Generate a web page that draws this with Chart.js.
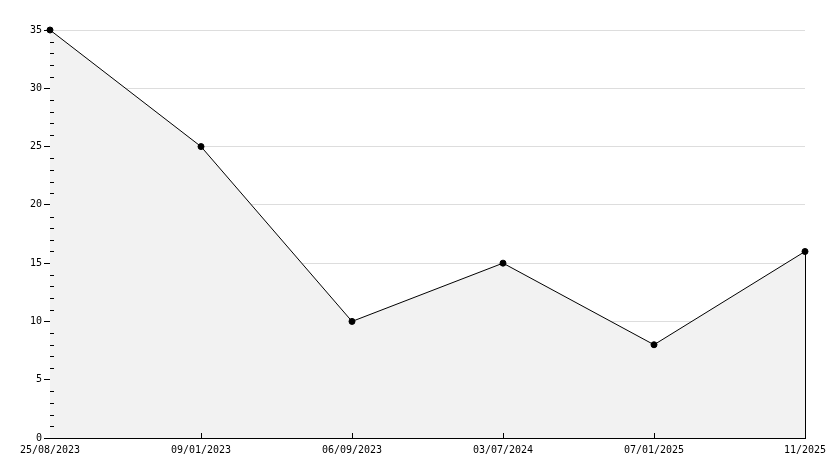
<!DOCTYPE html>
<html>
<head>
<meta charset="utf-8">
<script src="https://cdn.jsdelivr.net/npm/chart.js@4"></script>
<style>
  body { margin: 0; background: #fff; }
</style>
</head>
<body>
<canvas id="chart" width="834" height="468"></canvas>
<script>
    var dateLabels = ['25/08/2023', '09/01/2023', '06/09/2023', '03/07/2024', '07/01/2025', '11/2025'];
    var seriesValues = [35, 25, 10, 15, 8, 16];
    var yMax = 35;
    var yStep = 5;
    var minorStep = 1;

    // little tick marks drawn inside the plot, plus the closing edge of the area
    var extraMarks = {
        id: 'extraMarks',
        afterDatasetsDraw: function (chart) {
            var ctx = chart.ctx;
            var x = chart.scales.x;
            var y = chart.scales.y;
            var left = Math.round(y.right);
            var bottom = Math.round(x.top);
            ctx.save();
            ctx.strokeStyle = '#000';
            ctx.lineWidth = 1;
            ctx.beginPath();
            for (var v = 0; v <= yMax; v += minorStep) {
                if (v % yStep === 0) continue;
                var py = Math.round(y.getPixelForValue(v)) + 0.5;
                ctx.moveTo(left, py);
                ctx.lineTo(left + 4, py);
            }
            for (var i = 1; i < dateLabels.length - 1; i++) {
                var px = Math.round(x.getPixelForValue(i)) + 0.5;
                ctx.moveTo(px, bottom);
                ctx.lineTo(px, bottom - 5);
            }
            var last = dateLabels.length - 1;
            var lx = Math.round(x.getPixelForValue(last)) + 0.5;
            ctx.moveTo(lx, y.getPixelForValue(seriesValues[last]));
            ctx.lineTo(lx, bottom);
            ctx.stroke();
            ctx.restore();
        }
    };

    var ctx = document.getElementById('chart').getContext('2d');
    var myChart = new Chart(ctx, {
        type: 'line',
        data: {
            labels: dateLabels,
            datasets: [{
                data: seriesValues,
                borderColor: '#000',
                borderWidth: 1,
                backgroundColor: '#f2f2f2',
                fill: 'origin',
                tension: 0,
                clip: false,
                pointRadius: 3,
                pointStyle: 'circle',
                pointBackgroundColor: '#000',
                pointBorderColor: '#000',
                pointBorderWidth: 1
            }]
        },
        options: {
            responsive: false,
            animation: false,
            devicePixelRatio: 1,
            layout: {
                padding: { top: 30, right: 29, bottom: 0, left: 0 }
            },
            plugins: {
                legend: { display: false },
                tooltip: { enabled: false }
            },
            scales: {
                x: {
                    offset: false,
                    afterFit: function (scale) { scale.height = 30; },
                    grid: { display: false, drawTicks: false },
                    border: { display: true, color: '#000', width: 1 },
                    ticks: {
                        maxRotation: 0,
                        autoSkip: false,
                        padding: 6,
                        color: '#000',
                        font: { family: 'DejaVu Sans Mono', size: 10 }
                    }
                },
                y: {
                    min: 0,
                    max: yMax,
                    afterFit: function (scale) { scale.width = 50; },
                    grid: {
                        color: function (c) { return c.tick && c.tick.value > 0 ? '#dddddd' : 'rgba(0,0,0,0)'; },
                        lineWidth: 1,
                        drawTicks: true,
                        tickLength: 6,
                        tickColor: '#000'
                    },
                    border: { display: true, color: '#000', width: 1 },
                    ticks: {
                        stepSize: yStep,
                        padding: 2,
                        color: '#000',
                        font: { family: 'DejaVu Sans Mono', size: 10 }
                    }
                }
            }
        },
        plugins: [extraMarks]
    });
</script>
</body>
</html>
